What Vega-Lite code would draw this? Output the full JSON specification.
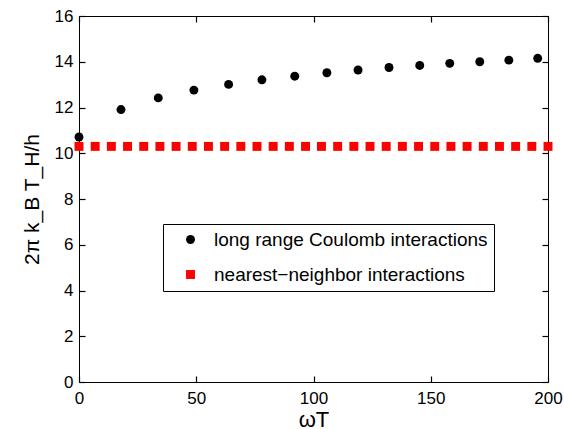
{
  "$schema": "https://vega.github.io/schema/vega-lite/v6.json",
  "width": 469,
  "height": 366,
  "autosize": "none",
  "padding": {"left": 79, "top": 16, "right": 16, "bottom": 47},
  "config": {
    "view": {"stroke": "black", "strokeWidth": 1},
    "font": "Liberation Sans",
    "axis": {
      "grid": false,
      "domain": false,
      "ticks": true,
      "offset": -6,
      "tickColor": "black",
      "tickSize": 6,
      "tickWidth": 1.2,
      "tickOpacity": 1,
      "labelColor": "black",
      "labelFont": "Liberation Sans",
      "labelFontSize": 17,
      "labelFlush": false,
      "titleFont": "Liberation Sans",
      "titleFontSize": 21,
      "titleFontWeight": "normal",
      "titleColor": "black"
    }
  },
  "data": {
    "values": [
      {"series": "long range Coulomb interactions", "x": 0, "y": 10.71},
      {"series": "long range Coulomb interactions", "x": 17.9, "y": 11.91},
      {"series": "long range Coulomb interactions", "x": 33.8, "y": 12.42},
      {"series": "long range Coulomb interactions", "x": 49.0, "y": 12.76},
      {"series": "long range Coulomb interactions", "x": 63.8, "y": 13.01},
      {"series": "long range Coulomb interactions", "x": 78.0, "y": 13.21},
      {"series": "long range Coulomb interactions", "x": 92.0, "y": 13.37},
      {"series": "long range Coulomb interactions", "x": 105.7, "y": 13.52},
      {"series": "long range Coulomb interactions", "x": 119.0, "y": 13.64},
      {"series": "long range Coulomb interactions", "x": 132.2, "y": 13.75},
      {"series": "long range Coulomb interactions", "x": 145.3, "y": 13.84},
      {"series": "long range Coulomb interactions", "x": 158.1, "y": 13.93},
      {"series": "long range Coulomb interactions", "x": 170.9, "y": 14.0},
      {"series": "long range Coulomb interactions", "x": 183.3, "y": 14.07},
      {"series": "long range Coulomb interactions", "x": 195.6, "y": 14.15},
      {"series": "nearest−neighbor interactions", "x": 0, "y": 10.3},
      {"series": "nearest−neighbor interactions", "x": 6.9, "y": 10.3},
      {"series": "nearest−neighbor interactions", "x": 13.8, "y": 10.3},
      {"series": "nearest−neighbor interactions", "x": 20.7, "y": 10.3},
      {"series": "nearest−neighbor interactions", "x": 27.6, "y": 10.3},
      {"series": "nearest−neighbor interactions", "x": 34.5, "y": 10.3},
      {"series": "nearest−neighbor interactions", "x": 41.4, "y": 10.3},
      {"series": "nearest−neighbor interactions", "x": 48.3, "y": 10.3},
      {"series": "nearest−neighbor interactions", "x": 55.2, "y": 10.3},
      {"series": "nearest−neighbor interactions", "x": 62.1, "y": 10.3},
      {"series": "nearest−neighbor interactions", "x": 69.0, "y": 10.3},
      {"series": "nearest−neighbor interactions", "x": 75.9, "y": 10.3},
      {"series": "nearest−neighbor interactions", "x": 82.8, "y": 10.3},
      {"series": "nearest−neighbor interactions", "x": 89.7, "y": 10.3},
      {"series": "nearest−neighbor interactions", "x": 96.6, "y": 10.3},
      {"series": "nearest−neighbor interactions", "x": 103.4, "y": 10.3},
      {"series": "nearest−neighbor interactions", "x": 110.3, "y": 10.3},
      {"series": "nearest−neighbor interactions", "x": 117.2, "y": 10.3},
      {"series": "nearest−neighbor interactions", "x": 124.1, "y": 10.3},
      {"series": "nearest−neighbor interactions", "x": 131.0, "y": 10.3},
      {"series": "nearest−neighbor interactions", "x": 137.9, "y": 10.3},
      {"series": "nearest−neighbor interactions", "x": 144.8, "y": 10.3},
      {"series": "nearest−neighbor interactions", "x": 151.7, "y": 10.3},
      {"series": "nearest−neighbor interactions", "x": 158.6, "y": 10.3},
      {"series": "nearest−neighbor interactions", "x": 165.5, "y": 10.3},
      {"series": "nearest−neighbor interactions", "x": 172.4, "y": 10.3},
      {"series": "nearest−neighbor interactions", "x": 179.3, "y": 10.3},
      {"series": "nearest−neighbor interactions", "x": 186.2, "y": 10.3},
      {"series": "nearest−neighbor interactions", "x": 193.1, "y": 10.3},
      {"series": "nearest−neighbor interactions", "x": 200.0, "y": 10.3}
    ]
  },
  "layer": [
    {
      "mark": {"type": "point", "filled": true, "opacity": 1, "size": 80, "clip": false},
      "encoding": {
        "x": {
          "field": "x", "type": "quantitative",
          "scale": {"domain": [0, 200], "nice": false, "zero": false},
          "axis": {"values": [0, 50, 100, 150, 200], "ticks": true, "tickSize": 6, "tickColor": "black", "title": "ωT", "titleFontSize": 22, "labelPadding": 8, "titlePadding": 3, "orient": "bottom"}
        },
        "y": {
          "field": "y", "type": "quantitative",
          "scale": {"domain": [0, 16], "nice": false, "zero": false},
          "axis": {"values": [0, 2, 4, 6, 8, 10, 12, 14, 16], "title": "2π k_B T_H/h", "labelPadding": 6, "titlePadding": 12, "orient": "left"}
        },
        "color": {
          "field": "series", "type": "nominal",
          "scale": {"domain": ["long range Coulomb interactions", "nearest−neighbor interactions"], "range": ["black", "red"]},
          "legend": {
            "title": null,
            "orient": "none",
            "legendX": 84,
            "legendY": 208,
            "strokeColor": "black",
            "fillColor": "white",
            "padding": 6,
            "symbolOffset": 12,
            "labelOffset": 14,
            "labelFontSize": 19,
            "labelFont": "Liberation Sans",
            "labelColor": "black",
            "labelLimit": 400,
            "symbolSize": 80,
            "rowPadding": 15,
            "symbolStrokeWidth": 0
          }
        },
        "shape": {
          "field": "series", "type": "nominal",
          "scale": {"domain": ["long range Coulomb interactions", "nearest−neighbor interactions"], "range": ["circle", "square"]}
        }
      }
    },
    {
      "mark": {"type": "point", "opacity": 0},
      "encoding": {
        "x": {
          "field": "x", "type": "quantitative",
          "scale": {"domain": [0, 200], "nice": false, "zero": false},
          "axis": {"values": [0, 50, 100, 150, 200], "ticks": true, "tickSize": 6, "tickColor": "black", "title": null, "labels": false, "orient": "top"}
        },
        "y": {
          "field": "y", "type": "quantitative",
          "scale": {"domain": [0, 16], "nice": false, "zero": false},
          "axis": {"values": [0, 2, 4, 6, 8, 10, 12, 14, 16], "title": null, "labels": false, "orient": "right"}
        }
      }
    }
  ],
  "resolve": {"axis": {"x": "independent", "y": "independent"}}
}
